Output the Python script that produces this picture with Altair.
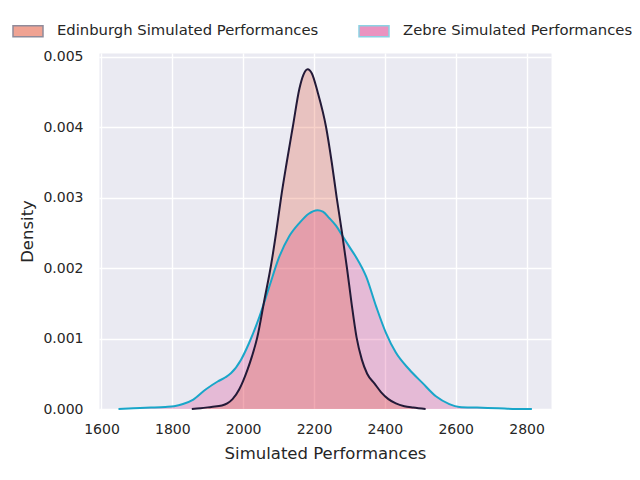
import altair as alt
import pandas as pd

# ---- data (KDE curves) ----
series_names = ["Edinburgh Simulated Performances", "Zebre Simulated Performances"]

zebre_x = [1648, 1690, 1740, 1780, 1805, 1830, 1858, 1895, 1928, 1950, 1966, 1994,
           2017, 2046, 2074, 2102, 2130, 2159, 2185, 2210, 2225, 2243, 2262, 2281,
           2300, 2318, 2347, 2375, 2403, 2431, 2469, 2506, 2544, 2582, 2610, 2660,
           2720, 2770, 2815]
zebre_d = [0.0, 0.00001, 0.00002, 0.00003, 0.00004, 0.00007, 0.00013, 0.00028,
           0.00039, 0.00045, 0.00051, 0.0007, 0.00094, 0.00131, 0.00174, 0.00216,
           0.00245, 0.00264, 0.00277, 0.00282, 0.0028, 0.00271, 0.0026, 0.00245,
           0.0023, 0.00216, 0.00188, 0.00146, 0.00108, 0.0008, 0.00056, 0.00037,
           0.00018, 0.00007, 0.00003, 0.00002, 0.00001, 0.0, 0.0]

edin_x = [1855, 1880, 1910, 1940, 1955, 1970, 1989, 2000, 2013, 2025, 2040, 2060,
          2079, 2093, 2107, 2123, 2140, 2159, 2170, 2182, 2194, 2210, 2234, 2250,
          2264, 2279, 2293, 2306, 2320, 2335, 2350, 2371, 2389, 2410, 2431, 2455,
          2480, 2515]
edin_d = [0.0, 0.00001, 0.00003, 0.00005, 0.00008, 0.00014, 0.00028, 0.0004,
          0.00057, 0.00075, 0.00102, 0.00155, 0.00205, 0.0025, 0.003, 0.0035, 0.004,
          0.00455, 0.00474, 0.00482, 0.00476, 0.0045, 0.004, 0.0035, 0.003, 0.0025,
          0.002, 0.0015, 0.00102, 0.0007, 0.0005, 0.00036, 0.00024, 0.00014, 0.00008,
          0.00004, 0.00002, 0.0]

x_ticks = [1600, 1800, 2000, 2200, 2400, 2600, 2800]
y_ticks = [0.0, 0.001, 0.002, 0.003, 0.004, 0.005]

fill_colors = ["#E24A2A", "#D62A82"]
line_colors = ["#231A38", "#19A6C9"]

rows = []
for x, d in zip(zebre_x, zebre_d):
    rows.append({"perf": x, "density": d, "series": series_names[1]})
for x, d in zip(edin_x, edin_d):
    rows.append({"perf": x, "density": d, "series": series_names[0]})
df = pd.DataFrame(rows)

FONT = "DejaVu Sans"
TXT = "#262626"

x_enc = alt.X("perf:Q", title="Simulated Performances",
              scale=alt.Scale(domain=[1593, 2869], nice=False, zero=False),
              axis=alt.Axis(values=x_ticks, format="d", labelPadding=13, titlePadding=9))
y_enc = alt.Y("density:Q", title="Density", stack=None,
              scale=alt.Scale(domain=[0, 0.00505], nice=False),
              axis=alt.Axis(values=y_ticks, format=".3f", labelPadding=16, titlePadding=7))

legend = alt.Legend(
    title=None, orient="none", legendX=-87, legendY=-38, direction="horizontal",
    symbolType="M-1,-0.367H1V0.367H-1Z", symbolSize=900, symbolStrokeWidth=1.5,
    symbolOpacity=0.5,
    labelFont=FONT, labelFontSize=14.8, labelColor=TXT, labelOffset=13,
    labelLimit=400, columnPadding=37, padding=0,
)

base = alt.Chart(df).encode(x=x_enc, y=y_enc)

areas = base.mark_area(interpolate="monotone", opacity=0.25, strokeWidth=0).encode(
    fill=alt.Fill("series:N", scale=alt.Scale(domain=series_names, range=fill_colors), legend=legend),
    stroke=alt.Stroke("series:N", scale=alt.Scale(domain=series_names, range=line_colors), legend=legend),
)
lines = base.mark_line(interpolate="monotone", strokeWidth=2).encode(
    stroke=alt.Stroke("series:N", scale=alt.Scale(domain=series_names, range=line_colors), legend=None),
)

chart = (
    alt.layer(areas, lines)
    .properties(width=452, height=356,
                autosize=alt.AutoSizeParams(type="none"),
                padding={"left": 91, "top": 45, "right": 81, "bottom": 60})
    .configure_view(fill="#EAEAF2", stroke="transparent")
    .configure_axis(
        grid=True, gridColor="white", gridWidth=1.4, domain=False, ticks=False, tickSize=0,
        labelFont=FONT, labelFontSize=14, labelColor=TXT,
        titleFont=FONT, titleFontSize=16.5, titleFontWeight="normal", titleColor=TXT,
    )
)

chart.save("out.html", embed_options={"renderer": "svg", "actions": False})
